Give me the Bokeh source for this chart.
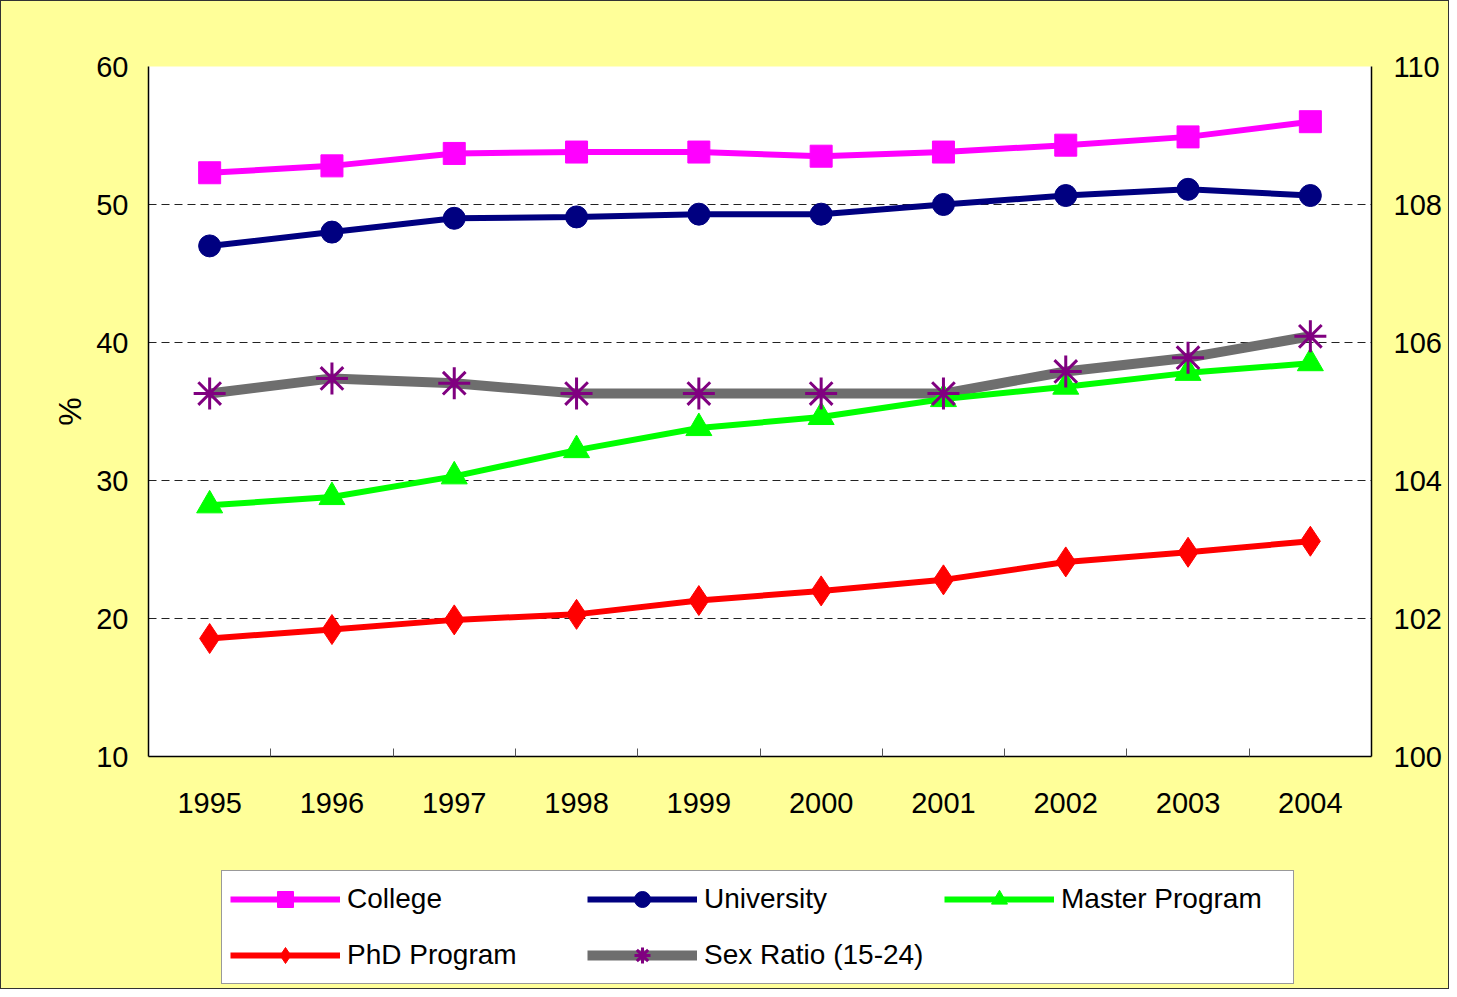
from bokeh.plotting import figure
from bokeh.layouts import column
from bokeh.models import Range1d, LinearAxis, FixedTicker, Legend, LegendItem
from bokeh.embed import file_html
from bokeh.resources import INLINE

years = [1995, 1996, 1997, 1998, 1999, 2000, 2001, 2002, 2003, 2004]
year_labels = [str(y) for y in years]
college = [52.3, 52.8, 53.7, 53.8, 53.8, 53.5, 53.8, 54.3, 54.9, 56.0]
university = [47.0, 48.0, 49.0, 49.1, 49.3, 49.3, 50.0, 50.65, 51.1, 50.65]
master = [28.2, 28.8, 30.3, 32.2, 33.8, 34.6, 35.9, 36.8, 37.8, 38.5]
phd = [18.55, 19.2, 19.9, 20.3, 21.3, 22.0, 22.8, 24.1, 24.8, 25.6]
sex_ratio = [105.26, 105.48, 105.41, 105.26, 105.26, 105.26, 105.26, 105.58, 105.78, 106.09]
left_ticks = [10, 20, 30, 40, 50, 60]
right_ticks = [100, 102, 104, 106, 108, 110]

FONT = "Liberation Sans"
BG = "#FFFF99"

STYLE = {
    "College": dict(color="#FF00FF", marker="square", size=22),
    "University": dict(color="#000080", marker="circle", size=22),
    "Master Program": dict(color="#00FF00", marker="triangle", size=26),
    "PhD Program": dict(color="#FF0000", marker="diamond", size=30),
}


def add_series(fig):
    r = {}
    for name, ys in [("College", college), ("University", university)]:
        s = STYLE[name]
        r[name] = [fig.line(years, ys, line_color=s["color"], line_width=6),
                   fig.scatter(years, ys, marker=s["marker"], size=s["size"],
                               fill_color=s["color"], line_color=s["color"])]
    sl = fig.line(years, sex_ratio, y_range_name="right", line_color="#6E6E6E", line_width=10)
    for name, ys in [("Master Program", master), ("PhD Program", phd)]:
        s = STYLE[name]
        r[name] = [fig.line(years, ys, line_color=s["color"], line_width=6),
                   fig.scatter(years, ys, marker=s["marker"], size=s["size"],
                               fill_color=s["color"], line_color=s["color"])]
    sm = fig.scatter(years, sex_ratio, y_range_name="right", marker="asterisk", size=32,
                     line_color="#800080", line_width=3)
    r["Sex Ratio (15-24)"] = [sl, sm]
    return r


# ---------------- main chart ----------------
p = figure(width=1447, height=860, output_backend="svg", toolbar_location=None,
           x_range=Range1d(1994.5, 2004.5), y_range=Range1d(10, 60),
           min_border_left=147, min_border_right=77, min_border_top=65, min_border_bottom=105,
           background_fill_color="white", border_fill_color=BG)
p.outline_line_color = None
p.extra_y_ranges = {"right": Range1d(100, 110)}

xa = p.xaxis[0]
xa.ticker = FixedTicker(ticks=years, minor_ticks=[y + 0.5 for y in years[:-1]])
xa.major_label_overrides = {y: l for y, l in zip(years, year_labels)}
xa.major_tick_in = 0
xa.major_tick_out = 0
xa.minor_tick_in = 8
xa.minor_tick_out = 0
xa.minor_tick_line_color = "#555555"
xa.major_label_standoff = 36

ya = p.yaxis[0]
ya.ticker = FixedTicker(ticks=left_ticks)
ya.major_tick_in = 0
ya.major_tick_out = 0
ya.minor_tick_line_color = None
ya.major_label_standoff = 20
ya.axis_label = "%"
ya.axis_label_text_font_size = "32px"
ya.axis_label_text_font_style = "normal"
ya.axis_label_text_font = FONT
ya.axis_label_text_color = "black"
ya.axis_label_standoff = 5

yr = LinearAxis(y_range_name="right", ticker=FixedTicker(ticks=right_ticks))
yr.major_tick_in = 0
yr.major_tick_out = 0
yr.minor_tick_line_color = None
yr.major_label_standoff = 22
p.add_layout(yr, "right")

for ax in [xa, ya, yr]:
    ax.axis_line_color = "black"
    ax.axis_line_width = 1.5
    ax.major_label_text_font = FONT
    ax.major_label_text_font_size = "29px"
    ax.major_label_text_color = "black"

p.xgrid.visible = False
p.ygrid.ticker = FixedTicker(ticks=left_ticks[1:])
p.ygrid.grid_line_color = "#222222"
p.ygrid.grid_line_dash = "8 5"
p.ygrid.grid_line_width = 1

add_series(p)

# ---------------- legend strip (same series, kept out of view) ----------------
q = figure(width=1447, height=127, output_backend="svg", toolbar_location=None,
           x_range=Range1d(0, 1), y_range=Range1d(0, 1),
           x_axis_location=None, y_axis_location=None,
           min_border_left=0, min_border_right=0, min_border_top=0, min_border_bottom=0,
           background_fill_color=BG, border_fill_color=BG)
q.outline_line_color = None
q.grid.visible = False
q.extra_y_ranges = {"right": Range1d(0, 1)}
rq = add_series(q)

# column-major fill: col1 = College, PhD; col2 = University, Sex Ratio; col3 = Master
order = ["College", "PhD Program", "University", "Sex Ratio (15-24)", "Master Program"]
legend = Legend(items=[LegendItem(label=n, renderers=rq[n]) for n in order],
                ncols=3, location=(73, 4))
legend.glyph_width = 110
legend.glyph_height = 40
legend.label_height = 40
legend.label_width = 224
legend.label_standoff = 7
legend.spacing = 16
legend.padding = 8
legend.margin = 0
legend.label_text_font = FONT
legend.label_text_font_size = "28px"
legend.label_text_color = "black"
legend.border_line_color = "#333333"
legend.border_line_width = 1
legend.background_fill_color = "white"
legend.background_fill_alpha = 1
q.add_layout(legend, "center")

layout = column(p, q, spacing=0)
layout.styles = {"border": "1px solid #333333", "background-color": BG}

open("out.html", "w").write(file_html(layout, INLINE))
